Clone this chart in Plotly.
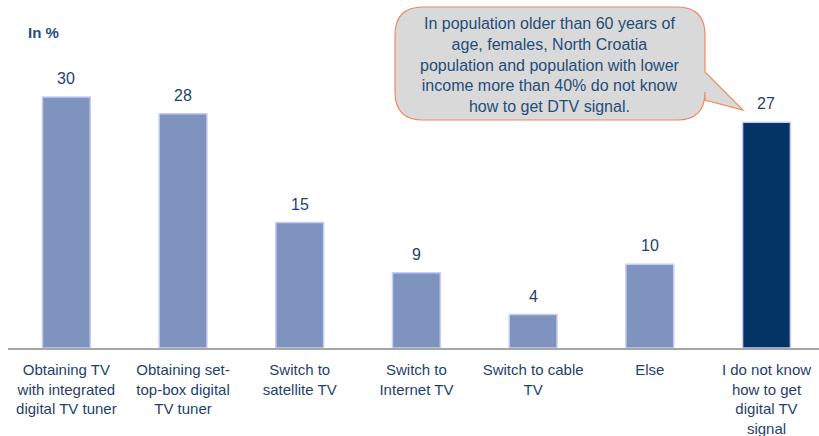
import plotly.graph_objects as go

# Survey answers: how respondents plan to receive digital TV (share in %)
categories = [
    "Obtaining TV<br>with integrated<br>digital TV tuner",
    "Obtaining set-<br>top-box digital<br>TV tuner",
    "Switch to<br>satellite TV",
    "Switch to<br>Internet TV",
    "Switch to cable<br>TV",
    "Else",
    "I do not know<br>how to get<br>digital TV<br>signal",
]
values = [30, 28, 15, 9, 4, 10, 27]

callout_text = (
    "In population older than 60 years of<br>"
    "age, females, North Croatia<br>"
    "population and population with lower<br>"
    "income more than 40% do not know<br>"
    "how to get DTV signal."
)

FONT = "Liberation Sans, Arial, sans-serif"
TEXT_COLOR = "#1F3F6E"
LIGHT = "#7F93BF"
DARK = "#043366"

W, H = 819, 436
ML, MR, MT, MB = 8, 0, 0, 88
X_RANGE = [-0.5, 6.45]
Y_RANGE = [0, 41.6]

bar_colors = [LIGHT] * (len(values) - 1) + [DARK]
xs = list(range(len(categories)))

fig = go.Figure(
    go.Bar(
        x=xs,
        y=values,
        width=0.41,
        marker=dict(color=bar_colors, line=dict(color="#C8CCF8", width=1.5)),
        hoverinfo="skip",
    )
)

# value labels above each bar
for xi, v in zip(xs, values):
    fig.add_annotation(
        x=xi, y=v, text=str(v), showarrow=False,
        yanchor="bottom", yshift=8,
        font=dict(family=FONT, size=16, color=TEXT_COLOR),
    )

# helpers to place the speech bubble in pixel space
pw = W - ML - MR
ph = H - MT - MB


def px(x):
    return (x - ML) / pw


def py(y):
    return (H - MB - y) / ph


def bubble_path(left, top, right, bottom, r, tail_top, tail_bot, tip):
    pts = []
    pts.append(f"M {px(left + r)},{py(top)}")
    pts.append(f"L {px(right - r)},{py(top)}")
    pts.append(f"Q {px(right)},{py(top)} {px(right)},{py(top + r)}")
    pts.append(f"L {px(right)},{py(tail_top)}")
    pts.append(f"L {px(tip[0])},{py(tip[1])}")
    pts.append(f"L {px(right)},{py(tail_bot)}")
    pts.append(f"L {px(right)},{py(bottom - r)}")
    pts.append(f"Q {px(right)},{py(bottom)} {px(right - r)},{py(bottom)}")
    pts.append(f"L {px(left + r)},{py(bottom)}")
    pts.append(f"Q {px(left)},{py(bottom)} {px(left)},{py(bottom - r)}")
    pts.append(f"L {px(left)},{py(top + r)}")
    pts.append(f"Q {px(left)},{py(top)} {px(left + r)},{py(top)}")
    pts.append("Z")
    return " ".join(pts)


fig.add_shape(
    type="path",
    xref="paper", yref="paper",
    path=bubble_path(395, 7, 705, 120, 28, 72, 100, (743, 110)),
    fillcolor="#D9D9D9",
    line=dict(color="#F08A5D", width=1.2),
    layer="above",
)

fig.add_annotation(
    xref="paper", yref="paper",
    x=px(550), y=py(65),
    text=callout_text, showarrow=False,
    xanchor="center", yanchor="middle", align="center",
    font=dict(family=FONT, size=16, color="#1F4E79"),
)

fig.add_annotation(
    xref="paper", yref="paper",
    x=px(26), y=py(32),
    text="<b>In %</b>", showarrow=False,
    xanchor="left", yanchor="middle",
    font=dict(family=FONT, size=15, color="#1F4E79"),
)

fig.update_layout(
    width=W, height=H,
    margin=dict(l=ML, r=MR, t=MT, b=MB),
    paper_bgcolor="white", plot_bgcolor="white",
    showlegend=False,
    bargap=0.5,
    xaxis=dict(
        range=X_RANGE,
        tickmode="array", tickvals=xs, ticktext=categories,
        showline=True, linecolor="#A6A6A6", linewidth=2,
        showgrid=False, zeroline=False, ticks="",
        ticklabelstandoff=7, automargin=False,
        tickfont=dict(family=FONT, size=15, color=TEXT_COLOR),
        fixedrange=True,
    ),
    yaxis=dict(
        range=Y_RANGE, visible=False, showgrid=False, zeroline=False,
        fixedrange=True,
    ),
)

fig.write_html("out.html", config={"displayModeBar": False})
